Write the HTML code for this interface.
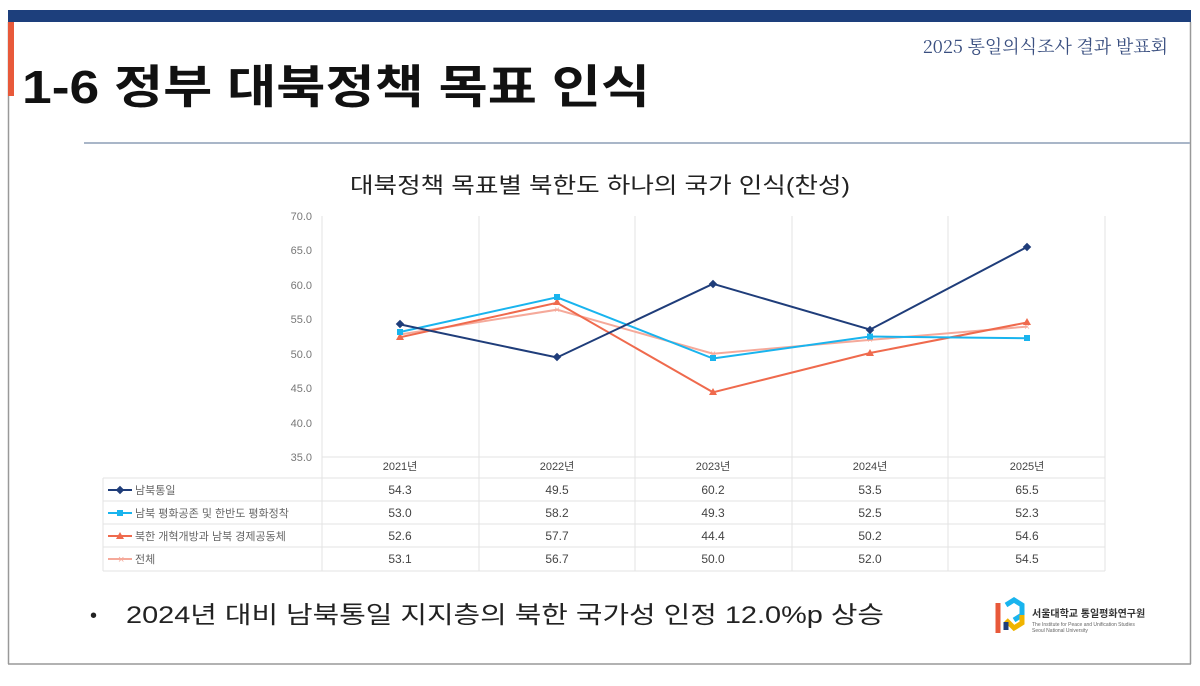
<!DOCTYPE html>
<html><head><meta charset="utf-8"><style>
body{margin:0;background:#fff;width:1200px;height:681px;overflow:hidden;font-family:"Liberation Sans","Noto Sans CJK KR",sans-serif;}
</style></head><body>
<svg width="1200" height="681" xmlns="http://www.w3.org/2000/svg" font-family="Liberation Sans, Noto Sans CJK KR, sans-serif">
<rect x="8" y="10" width="1183" height="12" fill="#1d3f7c"/>
<line x1="8.5" y1="22" x2="8.5" y2="664" stroke="#999" stroke-width="1.5"/>
<line x1="1190.5" y1="22" x2="1190.5" y2="664" stroke="#999" stroke-width="1.5"/>
<line x1="8" y1="664" x2="1191" y2="664" stroke="#999" stroke-width="1.5"/>
<rect x="8" y="22" width="6" height="74" fill="#e8593a"/>
<text x="1168" y="53" text-anchor="end" font-family="Noto Serif CJK SC, serif" font-size="18" fill="#3a4f80">2025 통일의식조사 결과 발표회</text>
<text x="22" y="103" font-size="46" font-weight="bold" fill="#111" textLength="628" lengthAdjust="spacingAndGlyphs">1-6 정부 대북정책 목표 인식</text>
<line x1="84" y1="143" x2="1190" y2="143" stroke="#a9b6c8" stroke-width="2"/>
<text x="350" y="193" font-size="22" fill="#222" textLength="500" lengthAdjust="spacingAndGlyphs">대북정책 목표별 북한도 하나의 국가 인식(찬성)</text>
<g font-size="11" fill="#777" text-anchor="end">
<text x="312" y="220">70.0</text><text x="312" y="254">65.0</text><text x="312" y="289">60.0</text><text x="312" y="323">55.0</text><text x="312" y="358">50.0</text><text x="312" y="392">45.0</text><text x="312" y="427">40.0</text><text x="312" y="461">35.0</text>
</g>
<g stroke="#e3e3e3" stroke-width="1">
<line x1="322" y1="216" x2="322" y2="571"/><line x1="479" y1="216" x2="479" y2="571"/><line x1="635" y1="216" x2="635" y2="571"/><line x1="792" y1="216" x2="792" y2="571"/><line x1="948" y1="216" x2="948" y2="571"/><line x1="1105" y1="216" x2="1105" y2="571"/>
<line x1="322" y1="457" x2="1105" y2="457"/>
<line x1="103" y1="478" x2="1105" y2="478"/><line x1="103" y1="501" x2="1105" y2="501"/><line x1="103" y1="524" x2="1105" y2="524"/><line x1="103" y1="547" x2="1105" y2="547"/><line x1="103" y1="571" x2="1105" y2="571"/>
<line x1="103" y1="478" x2="103" y2="571"/>
</g>
<g font-size="11" fill="#444" text-anchor="middle">
<text x="400" y="470">2021년</text><text x="557" y="470">2022년</text><text x="713" y="470">2023년</text><text x="870" y="470">2024년</text><text x="1027" y="470">2025년</text>
</g>
<g font-size="12" fill="#444" text-anchor="middle">
<text x="400" y="494">54.3</text><text x="557" y="494">49.5</text><text x="713" y="494">60.2</text><text x="870" y="494">53.5</text><text x="1027" y="494">65.5</text>
<text x="400" y="517">53.0</text><text x="557" y="517">58.2</text><text x="713" y="517">49.3</text><text x="870" y="517">52.5</text><text x="1027" y="517">52.3</text>
<text x="400" y="540">52.6</text><text x="557" y="540">57.7</text><text x="713" y="540">44.4</text><text x="870" y="540">50.2</text><text x="1027" y="540">54.6</text>
<text x="400" y="563">53.1</text><text x="557" y="563">56.7</text><text x="713" y="563">50.0</text><text x="870" y="563">52.0</text><text x="1027" y="563">54.5</text>
</g>
<g font-size="11" fill="#666">
<line x1="108" y1="490" x2="132" y2="490" stroke="#1f3d7a" stroke-width="2"/><rect x="117" y="487" width="6" height="6" fill="#1f3d7a" transform="rotate(45 120 490)"/><text x="135" y="494">남북통일</text>
<line x1="108" y1="513" x2="132" y2="513" stroke="#19b4ee" stroke-width="2"/><rect x="117" y="510" width="6" height="6" fill="#19b4ee"/><text x="135" y="517">남북 평화공존 및 한반도 평화정착</text>
<line x1="108" y1="536" x2="132" y2="536" stroke="#ef6a4d" stroke-width="2"/><polygon points="120,532 124,539 116,539" fill="#ef6a4d"/><text x="135" y="540">북한 개혁개방과 남북 경제공동체</text>
<line x1="108" y1="559" x2="132" y2="559" stroke="#f5a99a" stroke-width="2"/><text x="118" y="563" fill="#f5a99a">×</text><text x="135" y="563">전체</text>
</g>
<polyline fill="none" stroke="#f5a99a" stroke-width="2" points="400,334.5 557,309.7 713,353.7 870,339.9 1027,326.6"/>
<polyline fill="none" stroke="#ef6a4d" stroke-width="2" points="400,337.3 557,302.8 713,392.3 870,353.0 1027,322.5"/>
<polyline fill="none" stroke="#19b4ee" stroke-width="2" points="400,332.0 557,297.3 713,358.5 870,336.5 1027,338.2"/>
<polyline fill="none" stroke="#1f3d7a" stroke-width="2" points="400,324.4 557,357.5 713,283.8 870,329.6 1027,247.0"/>
<g fill="#f5a99a" font-size="10" text-anchor="middle"><text x="400" y="338">×</text><text x="557" y="313">×</text><text x="713" y="357">×</text><text x="870" y="343">×</text><text x="1027" y="330">×</text></g>
<g fill="#ef6a4d"><polygon points="400,333 404,340 396,340"/><polygon points="557,298 561,305 553,305"/><polygon points="713,388 717,395 709,395"/><polygon points="870,349 874,356 866,356"/><polygon points="1027,318 1031,325 1023,325"/></g>
<g fill="#19b4ee"><rect x="397" y="329" width="6" height="6"/><rect x="554" y="294" width="6" height="6"/><rect x="710" y="355" width="6" height="6"/><rect x="867" y="333.5" width="6" height="6"/><rect x="1024" y="335" width="6" height="6"/></g>
<g fill="#1f3d7a"><rect x="397" y="321" width="6" height="6" transform="rotate(45 400 324)"/><rect x="554" y="354" width="6" height="6" transform="rotate(45 557 357)"/><rect x="710" y="281" width="6" height="6" transform="rotate(45 713 284)"/><rect x="867" y="327" width="6" height="6" transform="rotate(45 870 330)"/><rect x="1024" y="244" width="6" height="6" transform="rotate(45 1027 247)"/></g>
<text x="90" y="622" font-size="20" fill="#222">•</text>
<text x="126" y="623" font-size="24" fill="#222" textLength="758" lengthAdjust="spacingAndGlyphs">2024년 대비 남북통일 지지층의 북한 국가성 인정 12.0%p 상승</text>
<g fill="none" stroke-width="5"><path d="M998,603 v30" stroke="#e8593a"/><path d="M1006,605 l8,-5 8,5 v10 l-8,5" stroke="#19b4ee"/><path d="M1006,620 l8,8 8,-5 v-8" stroke="#f0b400"/><path d="M1006,622 v8" stroke="#1f3d7a"/></g>
<text x="1032" y="617" font-size="10" font-weight="bold" fill="#333">서울대학교 통일평화연구원</text>
<text x="1032" y="626" font-size="5" fill="#666">The Institute for Peace and Unification Studies</text>
<text x="1032" y="632" font-size="5" fill="#666">Seoul National University</text>
</svg>
</body></html>
